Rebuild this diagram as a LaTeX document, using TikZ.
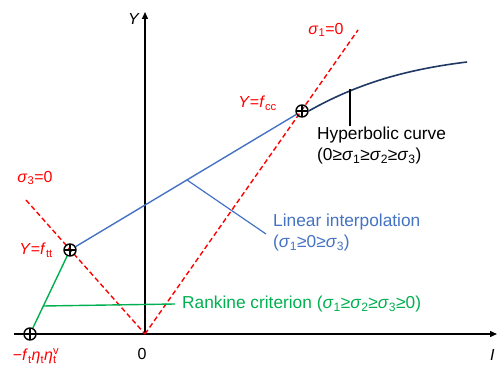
\documentclass[tikz,border=0pt]{standalone}
\usepackage{fontspec}
\setmainfont{Liberation Sans}
\usetikzlibrary{arrows.meta}
\definecolor{cred}{HTML}{FF0000}
\definecolor{cblue}{HTML}{4472C4}
\definecolor{cnavy}{HTML}{1F3864}
\definecolor{cgreen}{HTML}{00B050}
\newcommand{\sig}[1]{\textit{σ}\textsubscript{#1}}
\tikzset{
  axis/.style={line width=1.4pt, -{Triangle[length=7pt,width=6pt]}},
  dashline/.style={cred, line width=1.4pt, dash pattern=on 5pt off 3pt},
  lbl/.style={font=\fontsize{16}{20}\selectfont, inner sep=0pt},
  desc/.style={font=\fontsize{17.3}{21}\selectfont, inner sep=0pt},
  cross/.style={circle, draw=black, line width=1.4pt, minimum size=12pt, inner sep=0pt,
    path picture={\draw[line width=1.1pt] (path picture bounding box.north) -- (path picture bounding box.south)
      (path picture bounding box.west) -- (path picture bounding box.east);}},
}
\begin{document}
\begin{tikzpicture}[x=1pt,y=1pt]
\useasboundingbox (0,0) rectangle (498,367);
% key coordinates
\coordinate (O) at (145,33);
\coordinate (xs) at (14,33);
\coordinate (xe) at (497,33);
\coordinate (ye) at (145,355);
\coordinate (s3s) at (26,167);
\coordinate (s1e) at (358,337);
\coordinate (hm) at (350,278);
\coordinate (hb) at (350,241);
\coordinate (he) at (467,305);
\coordinate (rl) at (43,61);
\coordinate (rr) at (175,63);
\coordinate (la) at (187,187);
\coordinate (lb) at (266,133);
% axes
\draw[axis] (xs) -- (xe);
\draw[axis] (O) -- (ye);
% dashed lines
\draw[dashline] (s3s) -- (O);
\draw[dashline] (O) -- (s1e);
% nodes
\node[cross] (A) at (30,33) {};
\node[cross] (T) at (70,117) {};
\node[cross] (C) at (302,256) {};
% curves
\draw[cblue, line width=1.4pt] (T) -- (C);
\draw[cnavy, line width=1.6pt] (C.east) .. controls (360,285) and (410,298) .. (he);
\draw[cgreen, line width=1.4pt] (A) -- (T);
\draw[cgreen, line width=1.4pt] (rl) -- (rr);
\draw[black, line width=1.2pt] (hm) -- (hb);
\draw[cblue, line width=1.2pt] (la) -- (lb);
% labels
\node[lbl] (ylab) at (134,348) {\textit{Y}};
\node[lbl] (zero) at (142,13) {0};
\node[lbl, cred] (alab) at (36,11) {−\textit{f}\textsubscript{t}\textit{η}\textsubscript{t}\textit{η}\rlap{\textsubscript{t}}\textsuperscript{v}};
\node[lbl, cred] (s3lab) at (35,189) {\sig{3}=0};
\node[lbl, cred, anchor=east] (tlab) at (53,117) {\textit{Y}=\textit{f}\textsubscript{tt}};
\node[lbl, cred, anchor=east] (clab) at (277,264) {\textit{Y}=\textit{f}\textsubscript{cc}};
\node[lbl, cred] (s1lab) at (326,337) {\sig{1}=0};
\node[desc, anchor=north west, align=left] (hlab) at (317,240) {Hyperbolic curve\\(0≥\sig{1}≥\sig{2}≥\sig{3})};
\node[desc, cblue, anchor=north west, align=left] (llab) at (273,153) {Linear interpolation\\(\sig{1}≥0≥\sig{3})};
\node[desc, cgreen, anchor=west] (rlab) at (182,63) {Rankine criterion (\sig{1}≥\sig{2}≥\sig{3}≥0)};
\node[lbl, anchor=west] (ilab) at (490,12) {\textit{I}};
\end{tikzpicture}
\end{document}
